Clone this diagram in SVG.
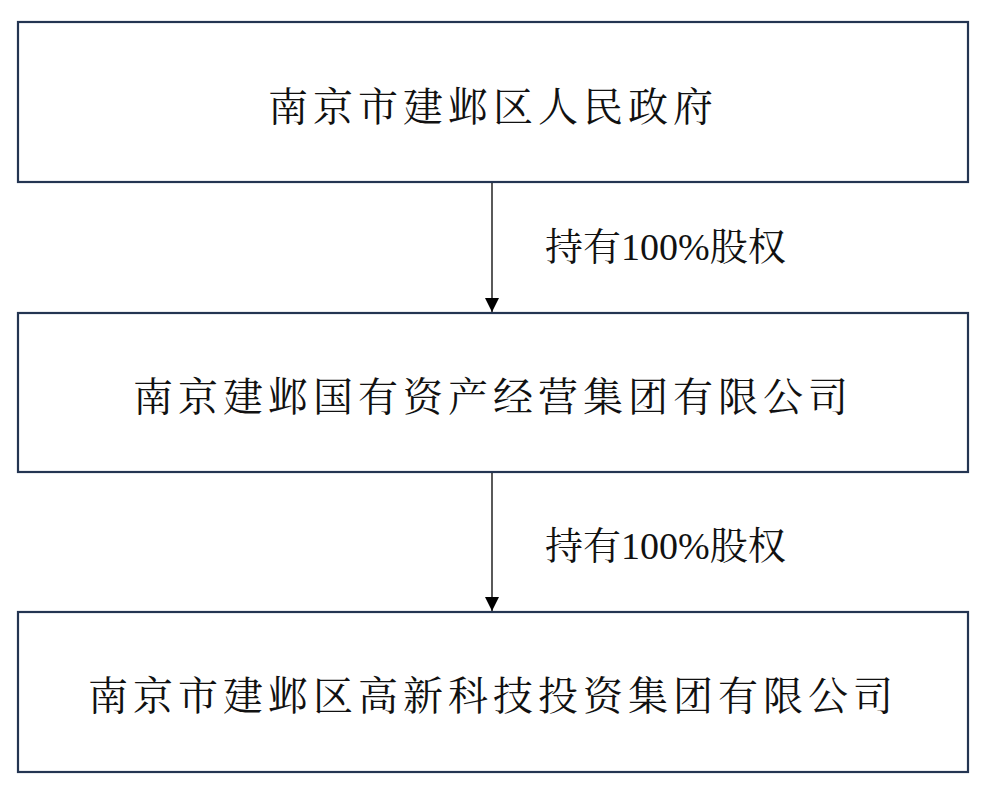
<svg xmlns="http://www.w3.org/2000/svg" width="988" height="788" viewBox="0 0 988 788">
<style>
.box{fill:#fff;stroke:#243552;stroke-width:2.2}
.t{font-family:"Noto Serif CJK SC","Liberation Serif","Noto Sans CJK SC",serif;font-size:40px;fill:#111;text-anchor:middle;dominant-baseline:central}
.l{font-family:"Liberation Serif","Noto Serif CJK SC","Noto Sans CJK SC",serif;font-size:38px;fill:#111;dominant-baseline:central}
.c{stroke:#000;stroke-width:1.3;fill:none}
</style>
<defs><marker id="a" markerWidth="14" markerHeight="14" refX="14" refY="7" orient="auto" markerUnits="userSpaceOnUse"><path d="M0,0L14,7L0,14z" fill="#000"/></marker></defs>
<rect width="988" height="788" fill="#fff"/>
<g id="n1"><rect class="box" x="18" y="22" width="950" height="160"/><text class="t" x="493" y="103" letter-spacing="5">南京市建邺区人民政府</text></g>
<g id="n2"><rect class="box" x="18" y="313" width="950" height="159"/><text class="t" x="493" y="393" letter-spacing="5">南京建邺国有资产经营集团有限公司</text></g>
<g id="n3"><rect class="box" x="18" y="612" width="950" height="160"/><text class="t" x="493" y="692" letter-spacing="5">南京市建邺区高新科技投资集团有限公司</text></g>
<g id="connectors">
<line class="c" x1="492" y1="183" x2="492" y2="312" marker-end="url(#a)"/>
<line class="c" x1="492" y1="473" x2="492" y2="611" marker-end="url(#a)"/>
<text class="l" x="545" y="247">持有100%股权</text>
<text class="l" x="545" y="546">持有100%股权</text>
</g>
</svg>
